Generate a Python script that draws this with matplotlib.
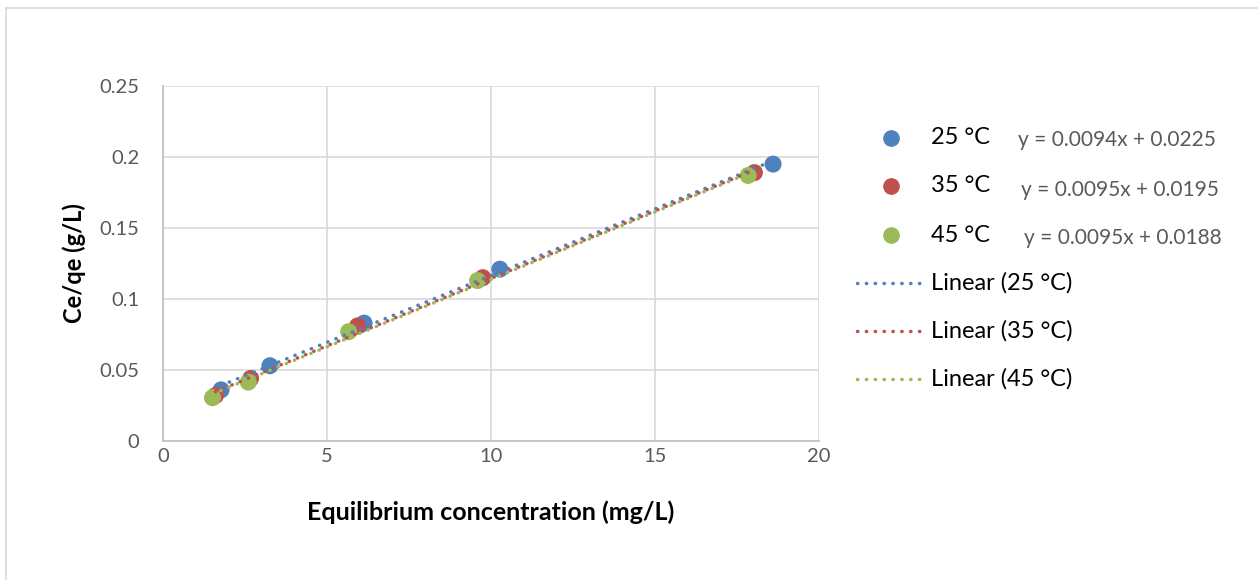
import matplotlib
matplotlib.use('Agg')
import matplotlib.pyplot as plt
from matplotlib.lines import Line2D
import numpy as np

plt.rcParams['font.family'] = ['Lato', 'DejaVu Sans']

# Langmuir linear plot data: Ce (mg/L) vs Ce/qe (g/L)
ce_25 = [1.77, 3.26, 6.13, 10.27, 18.6]
cq_25 = [0.036, 0.053, 0.083, 0.121, 0.195]
ce_35 = [1.6, 2.67, 5.93, 9.75, 18.03]
cq_35 = [0.032, 0.044, 0.081, 0.115, 0.189]
ce_45 = [1.51, 2.6, 5.66, 9.59, 17.84]
cq_45 = [0.0305, 0.0415, 0.077, 0.113, 0.187]

# fitted trendline coefficients (slope, intercept)
fit_25 = (0.0094, 0.0225)
fit_35 = (0.0095, 0.0195)
fit_45 = (0.0095, 0.0188)

labels = ['25 °C', '35 °C', '45 °C']
colors = ['#4f81bd', '#c0504d', '#9bbb59']
eqs = ['y = 0.0094x + 0.0225', 'y = 0.0095x + 0.0195', 'y = 0.0095x + 0.0188']

W, H = 1258, 580
def fx(px):
    return px / W
def fy(py):
    return 1 - py / H

fig = plt.figure(figsize=(W/100, H/100), dpi=100)
ax = fig.add_axes([fx(163), fy(441), (819-163)/W, (441-86)/H])

# round dots for the trendlines
dots = (0, (0.1, 2.45))
tl_w = 2.5
series = [(ce_25, cq_25, fit_25), (ce_35, cq_35, fit_35), (ce_45, cq_45, fit_45)]
for (x, y, fit), c in zip(series, colors):
    ax.scatter(x, y, s=150, color=c, zorder=3, edgecolors='none')
for (x, y, fit), c in zip(series, colors):
    xs = np.array([min(x), max(x)])
    ax.plot(xs, fit[0]*xs + fit[1], color=c, lw=tl_w, ls=dots,
            dash_capstyle='round', zorder=4)

ax.set_xlim(0, 20)
ax.set_ylim(0, 0.25)
ax.set_xticks([0, 5, 10, 15, 20])
ax.set_yticks([0, 0.05, 0.1, 0.15, 0.2, 0.25])
ax.set_yticklabels(['0', '0.05', '0.1', '0.15', '0.2', '0.25'])
ax.grid(True, color='#d9d9d9', lw=1.2)
ax.set_axisbelow(True)
for s in ['top', 'right']:
    ax.spines[s].set_visible(False)
for s in ['left', 'bottom']:
    ax.spines[s].set_color('#bfbfbf')
    ax.spines[s].set_linewidth(1.2)
ax.tick_params(length=0, labelsize=14.5, colors='#595959')
ax.tick_params(axis='y', pad=17)
ax.tick_params(axis='x', pad=5)

fig.text(fx(491), fy(512), 'Equilibrium concentration (mg/L)', fontsize=18,
         fontweight='bold', ha='center', va='center')
fig.text(fx(74), fy(263), 'Ce/qe (g/L)', fontsize=17, fontweight='bold',
         ha='center', va='center', rotation=90)

# legend, laid out by hand
rows = [138, 186, 235, 283, 331, 379]
for i, (lab, c) in enumerate(zip(labels, colors)):
    fig.add_artist(Line2D([fx(891)], [fy(rows[i])], marker='o', ls='none',
                          color=c, markersize=11))
    fig.text(fx(931), fy(rows[i]), lab, fontsize=17, va='center')
    fig.add_artist(Line2D([fx(857), fx(925)], [fy(rows[i+3])]*2, color=c,
                          lw=tl_w, ls=dots, dash_capstyle='round'))
    fig.text(fx(931), fy(rows[i+3]), 'Linear (%s)' % lab, fontsize=17, va='center')

# trendline equations
eq_pos = [(1018, 140), (1021, 190), (1024, 238)]
for t, (px, py) in zip(eqs, eq_pos):
    fig.text(fx(px), fy(py), t, fontsize=15, color='#595959', va='center')

# chart frame
fig.add_artist(Line2D([fx(6), 1], [fy(8), fy(8)], color='#d9d9d9', lw=1.2))
fig.add_artist(Line2D([fx(6), fx(6)], [0, fy(8)], color='#d9d9d9', lw=1.2))

fig.savefig('out.png', dpi=100)
